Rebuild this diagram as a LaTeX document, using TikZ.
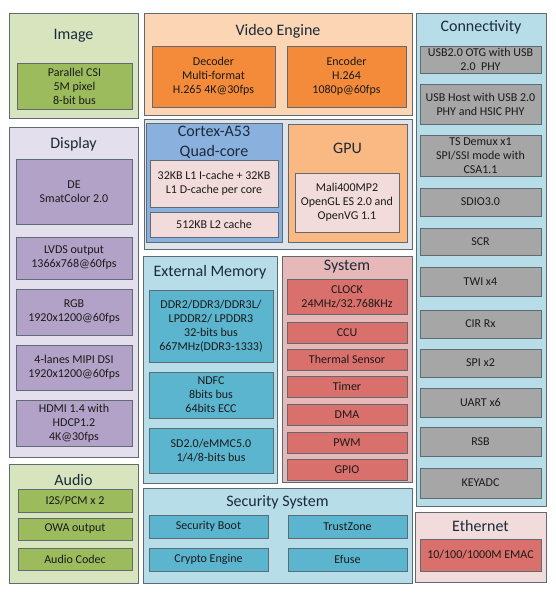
\documentclass[tikz,border=0pt]{standalone}
\usepackage{fontspec}
\setmainfont{Carlito}
\definecolor{imgO}{HTML}{D7E4BD}
\definecolor{imgI}{HTML}{9CBB5C}
\definecolor{dispO}{HTML}{E4DFEC}
\definecolor{dispI}{HTML}{B3A2C7}
\definecolor{vidO}{HTML}{FCD5B5}
\definecolor{vidI}{HTML}{F38B3A}
\definecolor{cpuBg}{HTML}{DFE4EA}
\definecolor{cpuC}{HTML}{8AB0DE}
\definecolor{pinkL}{HTML}{F2DCDB}
\definecolor{gpuC}{HTML}{FAB982}
\definecolor{memO}{HTML}{B7DEE8}
\definecolor{memI}{HTML}{5BB5CE}
\definecolor{sysO}{HTML}{E6B9B8}
\definecolor{sysI}{HTML}{D9706B}
\definecolor{grayI}{HTML}{A6A6A6}
\definecolor{bord}{HTML}{5F6B73}
\definecolor{ttl}{HTML}{1B2A3A}
\definecolor{txt}{HTML}{1A1A1A}
\newcommand\bx[7]{\node[#2, minimum width={(#5-#3)*1pt}, minimum height={(#6-#4)*1pt}] (#1) at ({(#3+#5)/2},{(#4+#6)/2}) {#7};}
\begin{document}
\begin{tikzpicture}[x=1pt,y=-1pt,
  blk/.style={draw=bord, line width=0.8pt, inner sep=0pt, outer sep=0pt, rectangle},
  outer/.style={blk},
  inner/.style={blk, align=center, text=txt, font=\fontsize{12}{14}\selectfont},
  ttlnode/.style={inner sep=0pt, text=ttl, font=\fontsize{16}{18}\selectfont, align=center}]
\useasboundingbox[fill=white] (0,0) rectangle (555,599);
% Image
\bx{image}{outer, fill=imgO}{9}{13}{138}{118}{}
\node[ttlnode] (imaget) at (73.5,36) {Image};
\bx{csi}{inner, fill=imgI}{17}{63}{132}{109}{Parallel CSI\\5M pixel\\8-bit bus}
% Display
\bx{display}{outer, fill=dispO}{9}{127}{138}{457}{}
\node[ttlnode] (displayt) at (73.5,144) {Display};
\bx{de}{inner, fill=dispI}{16}{159}{132}{224}{DE\\SmatColor 2.0}
\bx{lvds}{inner, fill=dispI}{16}{237}{132}{279}{LVDS output\\1366x768@60fps}
\bx{rgb}{inner, fill=dispI}{16}{289}{132}{335}{RGB\\1920x1200@60fps}
\bx{mipi}{inner, fill=dispI}{16}{345}{132}{390}{4-lanes MIPI DSI\\1920x1200@60fps}
\bx{hdmi}{inner, fill=dispI}{16}{400}{132}{446}{HDMI 1.4 with\\HDCP1.2\\4K@30fps}
% Audio
\bx{audio}{outer, fill=imgO}{9}{464}{138}{583}{}
\node[ttlnode] (audiot) at (73.5,480) {Audio};
\bx{i2s}{inner, fill=imgI}{18}{489}{132}{512}{I2S/PCM x 2}
\bx{owa}{inner, fill=imgI}{18}{518}{132}{540}{OWA output}
\bx{codec}{inner, fill=imgI}{18}{548}{132}{570}{Audio Codec}
% Video Engine
\bx{video}{outer, fill=vidO}{144}{13}{412}{115}{}
\node[ttlnode] (videot) at (278,31) {Video Engine};
\bx{dec}{inner, fill=vidI}{152}{46}{275}{107}{Decoder\\Multi-format\\H.265 4K@30fps}
\bx{enc}{inner, fill=vidI}{287}{46}{406}{107}{Encoder\\H.264\\1080p@60fps}
% CPU/GPU block
\bx{cpublk}{outer, fill=cpuBg}{144}{119}{412}{249}{}
\bx{cortex}{outer, fill=cpuC}{146}{123}{282}{242}{}
\node[ttlnode, font=\fontsize{16}{20}\selectfont] (cortext) at (214,142) {Cortex-A53\\Quad-core};
\bx{lone}{inner, fill=pinkL}{150}{160}{278}{207}{32KB L1 I-cache + 32KB\\L1 D-cache per core}
\bx{ltwo}{inner, fill=pinkL}{150}{212}{278}{237}{512KB L2 cache}
\bx{gpu}{outer, fill=gpuC}{288}{124}{407}{242}{}
\node[ttlnode] (gput) at (347.5,148) {GPU};
\bx{mali}{inner, fill=pinkL}{295}{173}{399}{232}{Mali400MP2\\OpenGL ES 2.0 and\\OpenVG 1.1}
% External Memory
\bx{extmem}{outer, fill=memO}{143}{256}{277}{483}{}
\node[ttlnode] (extmemt) at (210,272) {External Memory};
\bx{ddr}{inner, fill=memI}{149}{290}{273}{362}{DDR2/DDR3/DDR3L/\\LPDDR2/ LPDDR3\\32-bits bus\\667MHz(DDR3-1333)}
\bx{ndfc}{inner, fill=memI}{149}{372}{273}{418}{NDFC\\8bits bus\\64bits ECC}
\bx{sd}{inner, fill=memI}{149}{428}{273}{473}{SD2.0/eMMC5.0\\1/4/8-bits bus}
% System
\bx{system}{outer, fill=sysO}{282}{256}{412}{482}{}
\node[ttlnode] (systemt) at (347,267) {System};
\bx{clock}{inner, fill=sysI}{287}{279}{407}{314}{CLOCK\\24MHz/32.768KHz}
\bx{ccu}{inner, fill=sysI}{287}{322}{407}{343}{CCU}
\bx{thermal}{inner, fill=sysI}{287}{349}{407}{370}{Thermal Sensor}
\bx{timer}{inner, fill=sysI}{287}{376}{407}{397}{Timer}
\bx{dma}{inner, fill=sysI}{287}{404}{407}{425}{DMA}
\bx{pwm}{inner, fill=sysI}{287}{432}{407}{453}{PWM}
\bx{gpio}{inner, fill=sysI}{287}{459}{407}{480}{GPIO}
% Security System
\bx{security}{outer, fill=memO}{143}{488}{412}{583}{}
\node[ttlnode] (securityt) at (277.5,502) {Security System};
\bx{sboot}{inner, fill=memI}{149}{515}{268}{538}{Security Boot}
\bx{tzone}{inner, fill=memI}{288}{515}{407}{538}{TrustZone}
\bx{crypto}{inner, fill=memI}{149}{548}{268}{571}{Crypto Engine}
\bx{efuse}{inner, fill=memI}{288}{548}{407}{571}{Efuse}
% Connectivity
\bx{conn}{outer, fill=memO}{416}{13}{546}{506}{}
\node[ttlnode] (connt) at (481,27) {Connectivity};
\bx{otg}{inner, fill=grayI}{420}{46}{541}{73}{USB2.0 OTG with USB\\2.0\ \ PHY}
\bx{host}{inner, fill=grayI}{420}{84}{541}{124}{USB Host with USB 2.0\\PHY and HSIC PHY}
\bx{ts}{inner, fill=grayI}{420}{135}{541}{176}{TS Demux x1\\SPI/SSI mode with\\CSA1.1}
\bx{sdio}{inner, fill=grayI}{420}{188}{541}{216}{SDIO3.0}
\bx{scr}{inner, fill=grayI}{420}{228}{541}{255}{SCR}
\bx{twi}{inner, fill=grayI}{420}{267}{541}{296}{TWI x4}
\bx{cir}{inner, fill=grayI}{420}{310}{541}{338}{CIR Rx}
\bx{spi}{inner, fill=grayI}{420}{349}{541}{377}{SPI x2}
\bx{uart}{inner, fill=grayI}{420}{388}{541}{417}{UART x6}
\bx{rsb}{inner, fill=grayI}{420}{427}{541}{456}{RSB}
\bx{keyadc}{inner, fill=grayI}{420}{468}{541}{498}{KEYADC}
% Ethernet
\bx{eth}{outer, fill=pinkL}{415}{512}{546}{582}{}
\node[ttlnode] (etht) at (480.5,526) {Ethernet};
\bx{emac}{inner, fill=sysI}{420}{539}{541}{571}{10/100/1000M EMAC}
\end{tikzpicture}
\end{document}
